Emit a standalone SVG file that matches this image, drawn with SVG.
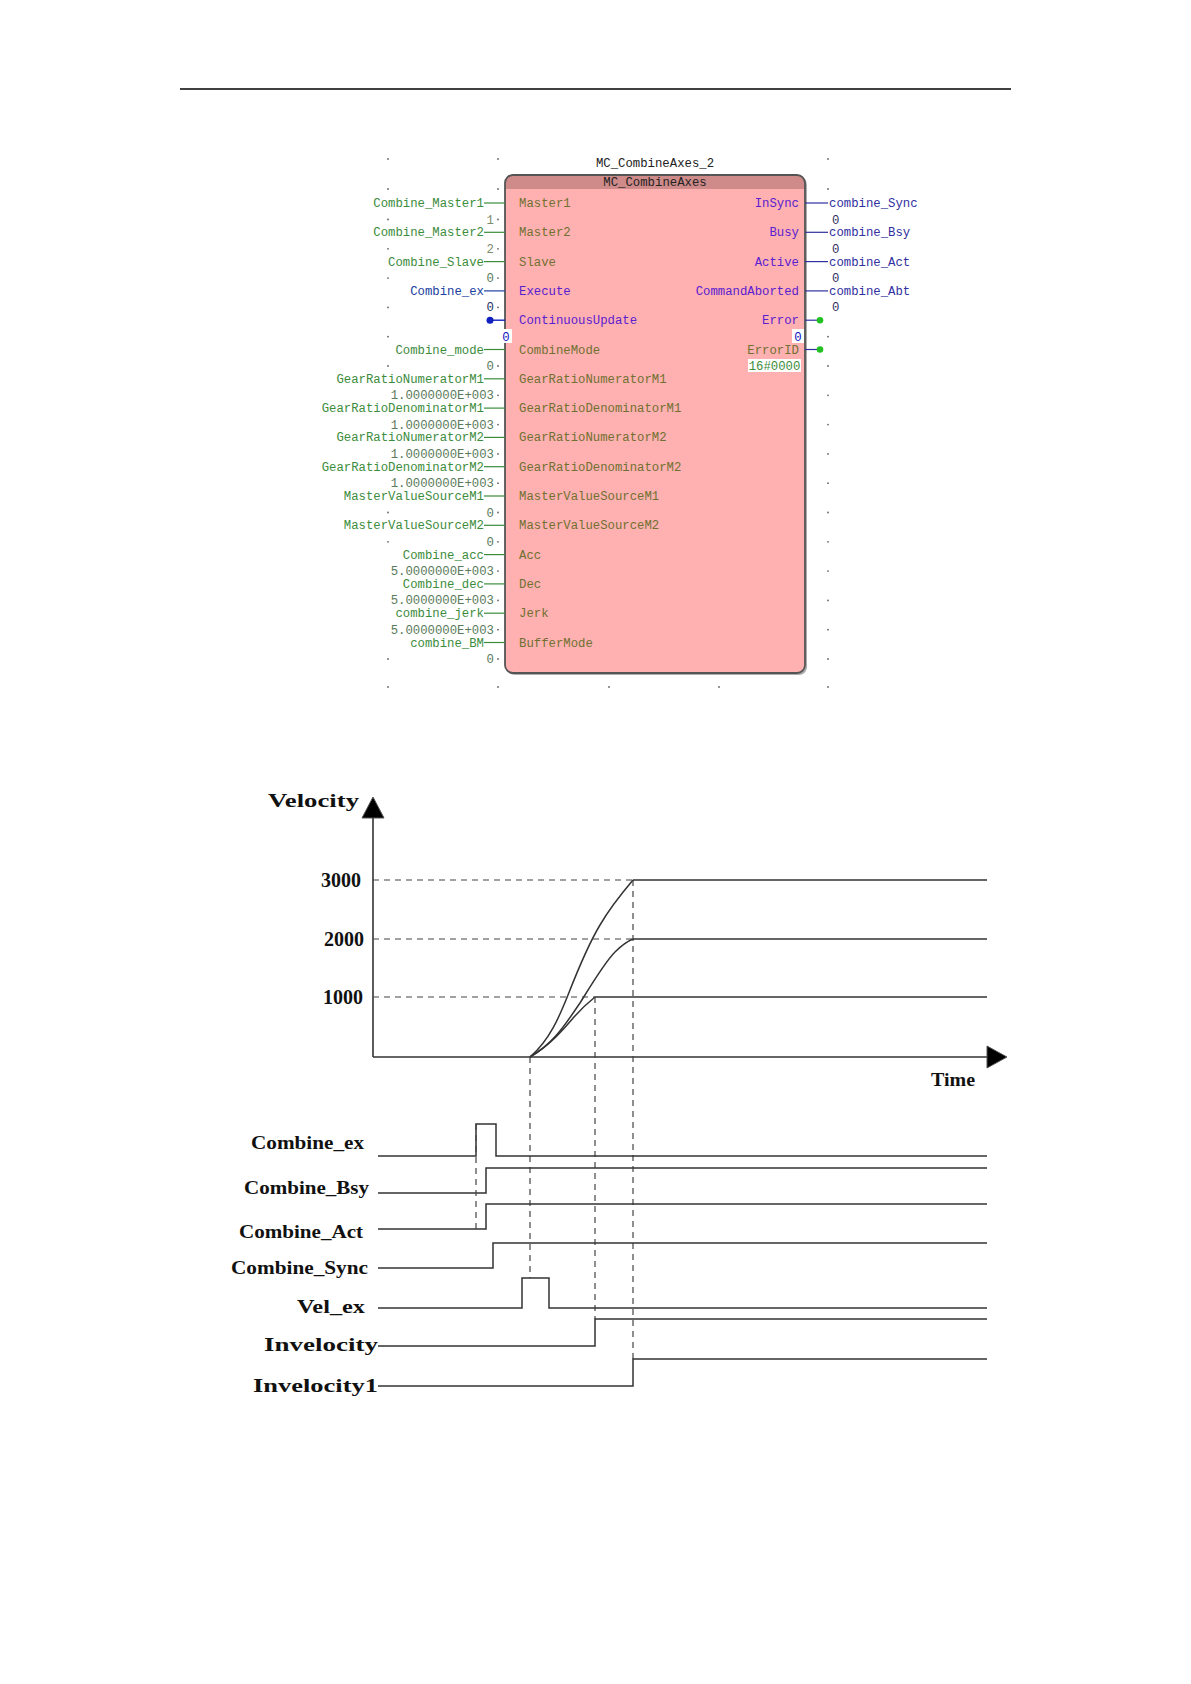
<svg xmlns="http://www.w3.org/2000/svg" width="1191" height="1684" viewBox="0 0 1191 1684">
<style>
.t{font-family:"Liberation Mono",monospace;font-size:12.3px}
.g{fill:#3c8c3c}.ol{fill:#707030}.v{fill:#5a7a5a}.pu{fill:#5a20d0}.bl{fill:#2040a0}.ob{fill:#3030a0}.dk{fill:#303060}
.lb{font-family:"Liberation Serif",serif;font-weight:bold;font-size:19px;fill:#111}
.num{font-family:"Liberation Serif",serif;font-weight:bold;font-size:20px;fill:#111}
.sig{fill:none;stroke:#333;stroke-width:1.5}
.dash{fill:none;stroke:#444;stroke-width:1.2;stroke-dasharray:6,5}
.dot{fill:#666}
</style>
<defs>
<clipPath id="blk"><rect x="505" y="175" width="300" height="498" rx="8"/></clipPath>
</defs>
<line x1="180" y1="89" x2="1011" y2="89" stroke="#000" stroke-width="1.5"/>

<g id="grid-dots">
<g class="dot">
<circle cx="388" cy="159" r="0.9"/><circle cx="498" cy="159" r="0.9"/><circle cx="828" cy="159" r="0.9"/>
<circle cx="388" cy="189" r="0.9"/><circle cx="498" cy="189" r="0.9"/><circle cx="828" cy="189" r="0.9"/>
<circle cx="388" cy="219.5" r="0.9"/><circle cx="388" cy="248.8" r="0.9"/><circle cx="388" cy="278.1" r="0.9"/><circle cx="388" cy="307.4" r="0.9"/><circle cx="388" cy="336.7" r="0.9"/><circle cx="388" cy="366" r="0.9"/><circle cx="388" cy="512.5" r="0.9"/><circle cx="388" cy="541.8" r="0.9"/><circle cx="388" cy="659" r="0.9"/>
<circle cx="498" cy="219.5" r="0.9"/><circle cx="498" cy="248.8" r="0.9"/><circle cx="498" cy="278.1" r="0.9"/><circle cx="498" cy="307.4" r="0.9"/><circle cx="498" cy="366" r="0.9"/><circle cx="498" cy="395.3" r="0.9"/><circle cx="498" cy="424.6" r="0.9"/><circle cx="498" cy="453.9" r="0.9"/><circle cx="498" cy="483.2" r="0.9"/><circle cx="498" cy="512.5" r="0.9"/><circle cx="498" cy="541.8" r="0.9"/><circle cx="498" cy="571.1" r="0.9"/><circle cx="498" cy="600.4" r="0.9"/><circle cx="498" cy="629.7" r="0.9"/><circle cx="498" cy="659" r="0.9"/>
<circle cx="828" cy="336.7" r="0.9"/><circle cx="828" cy="366" r="0.9"/><circle cx="828" cy="395.3" r="0.9"/><circle cx="828" cy="424.6" r="0.9"/><circle cx="828" cy="453.9" r="0.9"/><circle cx="828" cy="483.2" r="0.9"/><circle cx="828" cy="512.5" r="0.9"/><circle cx="828" cy="541.8" r="0.9"/><circle cx="828" cy="571.1" r="0.9"/><circle cx="828" cy="600.4" r="0.9"/><circle cx="828" cy="629.7" r="0.9"/><circle cx="828" cy="659" r="0.9"/>
<circle cx="388" cy="687" r="0.9"/><circle cx="498" cy="687" r="0.9"/><circle cx="609" cy="687" r="0.9"/><circle cx="719" cy="687" r="0.9"/><circle cx="828" cy="687" r="0.9"/>
</g>
</g>

<g id="block">
<rect x="507" y="177" width="300" height="498" rx="8" fill="#8a8a8a" opacity="0.7"/>
<rect x="505" y="175" width="300" height="498" rx="8" fill="#ffb0b0"/>
<rect x="505" y="175" width="300" height="14" fill="#cf8a8a" clip-path="url(#blk)"/>
<rect x="505" y="175" width="300" height="498" rx="8" fill="none" stroke="#555" stroke-width="1.8"/>
<text class="t" x="655" y="167" text-anchor="middle" fill="#222">MC_CombineAxes_2</text>
<text class="t" x="655" y="186" text-anchor="middle" fill="#222">MC_CombineAxes</text>
</g>

<g id="connectors">
<g stroke="#3c8c3c" stroke-width="1.2">
<line x1="484" y1="203" x2="505" y2="203"/><line x1="484" y1="232.3" x2="505" y2="232.3"/><line x1="484" y1="261.6" x2="505" y2="261.6"/>
<line x1="484" y1="349.5" x2="505" y2="349.5"/><line x1="484" y1="378.8" x2="505" y2="378.8"/><line x1="484" y1="408.1" x2="505" y2="408.1"/><line x1="484" y1="437.4" x2="505" y2="437.4"/><line x1="484" y1="466.7" x2="505" y2="466.7"/><line x1="484" y1="496" x2="505" y2="496"/><line x1="484" y1="525.3" x2="505" y2="525.3"/><line x1="484" y1="554.6" x2="505" y2="554.6"/><line x1="484" y1="583.9" x2="505" y2="583.9"/><line x1="484" y1="613.2" x2="505" y2="613.2"/><line x1="484" y1="642.5" x2="505" y2="642.5"/>
</g>
<line x1="484" y1="290.9" x2="505" y2="290.9" stroke="#2040a0" stroke-width="1.2"/>
<line x1="490" y1="320.2" x2="505" y2="320.2" stroke="#1020c0" stroke-width="1.4"/>
<circle cx="490" cy="320.2" r="3.5" fill="#1020c0"/>
<g stroke="#3030a0" stroke-width="1.2">
<line x1="805" y1="203" x2="828" y2="203"/><line x1="805" y1="232.3" x2="828" y2="232.3"/><line x1="805" y1="261.6" x2="828" y2="261.6"/><line x1="805" y1="290.9" x2="828" y2="290.9"/>
<line x1="805" y1="320.2" x2="820" y2="320.2"/><line x1="805" y1="349.5" x2="820" y2="349.5"/>
</g>
<circle cx="820" cy="320.2" r="3.3" fill="#22c022"/>
<circle cx="820" cy="349.5" r="3.3" fill="#22c022"/>
</g>

<g id="inputs" class="t">
<text x="484" y="207" text-anchor="end" class="g">Combine_Master1</text>
<text x="484" y="236.3" text-anchor="end" class="g">Combine_Master2</text>
<text x="484" y="265.6" text-anchor="end" class="g">Combine_Slave</text>
<text x="484" y="294.9" text-anchor="end" class="bl">Combine_ex</text>
<text x="484" y="353.5" text-anchor="end" class="g">Combine_mode</text>
<text x="484" y="382.8" text-anchor="end" class="g">GearRatioNumeratorM1</text>
<text x="484" y="412.1" text-anchor="end" class="g">GearRatioDenominatorM1</text>
<text x="484" y="441.4" text-anchor="end" class="g">GearRatioNumeratorM2</text>
<text x="484" y="470.7" text-anchor="end" class="g">GearRatioDenominatorM2</text>
<text x="484" y="500" text-anchor="end" class="g">MasterValueSourceM1</text>
<text x="484" y="529.3" text-anchor="end" class="g">MasterValueSourceM2</text>
<text x="484" y="558.6" text-anchor="end" class="g">Combine_acc</text>
<text x="484" y="587.9" text-anchor="end" class="g">Combine_dec</text>
<text x="484" y="617.2" text-anchor="end" class="g">combine_jerk</text>
<text x="484" y="646.5" text-anchor="end" class="g">combine_BM</text>

<text x="494" y="223.5" text-anchor="end" fill="#7c8c6c">1</text>
<text x="494" y="252.8" text-anchor="end" fill="#7c8c6c">2</text>
<text x="494" y="282.1" text-anchor="end" class="v">0</text>
<text x="494" y="311.4" text-anchor="end" fill="#203060">0</text>
<rect x="500" y="329" width="12" height="14" fill="#fff"/>
<text x="506" y="340.7" text-anchor="middle" fill="#1010c0">0</text>
<text x="494" y="370" text-anchor="end" class="v">0</text>
<text x="494" y="399.3" text-anchor="end" class="v">1.0000000E+003</text>
<text x="494" y="428.6" text-anchor="end" class="v">1.0000000E+003</text>
<text x="494" y="457.9" text-anchor="end" class="v">1.0000000E+003</text>
<text x="494" y="487.2" text-anchor="end" class="v">1.0000000E+003</text>
<text x="494" y="516.5" text-anchor="end" class="v">0</text>
<text x="494" y="545.8" text-anchor="end" class="v">0</text>
<text x="494" y="575.1" text-anchor="end" class="v">5.0000000E+003</text>
<text x="494" y="604.4" text-anchor="end" class="v">5.0000000E+003</text>
<text x="494" y="633.7" text-anchor="end" class="v">5.0000000E+003</text>
<text x="494" y="663" text-anchor="end" class="v">0</text>
</g>

<g id="pins" class="t">
<text x="519" y="207" class="ol">Master1</text>
<text x="519" y="236.3" class="ol">Master2</text>
<text x="519" y="265.6" class="ol">Slave</text>
<text x="519" y="294.9" class="pu">Execute</text>
<text x="519" y="324.2" class="pu">ContinuousUpdate</text>
<text x="519" y="353.5" class="ol">CombineMode</text>
<text x="519" y="382.8" class="ol">GearRatioNumeratorM1</text>
<text x="519" y="412.1" class="ol">GearRatioDenominatorM1</text>
<text x="519" y="441.4" class="ol">GearRatioNumeratorM2</text>
<text x="519" y="470.7" class="ol">GearRatioDenominatorM2</text>
<text x="519" y="500" class="ol">MasterValueSourceM1</text>
<text x="519" y="529.3" class="ol">MasterValueSourceM2</text>
<text x="519" y="558.6" class="ol">Acc</text>
<text x="519" y="587.9" class="ol">Dec</text>
<text x="519" y="617.2" class="ol">Jerk</text>
<text x="519" y="646.5" class="ol">BufferMode</text>

<text x="799" y="207" text-anchor="end" class="pu">InSync</text>
<text x="799" y="236.3" text-anchor="end" class="pu">Busy</text>
<text x="799" y="265.6" text-anchor="end" class="pu">Active</text>
<text x="799" y="294.9" text-anchor="end" class="pu">CommandAborted</text>
<text x="799" y="324.2" text-anchor="end" class="pu">Error</text>
<rect x="792" y="329" width="12" height="14" fill="#fff"/>
<text x="798" y="340.7" text-anchor="middle" fill="#1010c0">0</text>
<text x="799" y="353.5" text-anchor="end" class="ol">ErrorID</text>
<rect x="748" y="359" width="53" height="13" fill="#fff"/>
<text x="774.5" y="369.5" text-anchor="middle" fill="#3c8c3c">16#0000</text>
</g>

<g id="outputs" class="t">
<text x="829" y="207" class="ob">combine_Sync</text>
<text x="829" y="236.3" class="ob">combine_Bsy</text>
<text x="829" y="265.6" class="ob">combine_Act</text>
<text x="829" y="294.9" class="ob">combine_Abt</text>
<text x="832" y="223.5" class="dk">0</text>
<text x="832" y="252.8" class="dk">0</text>
<text x="832" y="282.1" class="dk">0</text>
<text x="832" y="311.4" class="dk">0</text>
</g>

<g id="velocity-chart">
<line x1="373" y1="815" x2="373" y2="1057" stroke="#333" stroke-width="1.6"/>
<polygon points="373,797 362,818 384,818" fill="#000" stroke="#555" stroke-width="1"/>
<line x1="373" y1="1057" x2="990" y2="1057" stroke="#333" stroke-width="1.6"/>
<polygon points="987,1046 1007,1057 987,1068" fill="#000" stroke="#555" stroke-width="1"/>
<text class="lb" x="268" y="807" textLength="91" lengthAdjust="spacingAndGlyphs">Velocity</text>
<text class="lb" x="931" y="1086" textLength="44" lengthAdjust="spacingAndGlyphs">Time</text>
<text class="num" x="361" y="887" text-anchor="end">3000</text>
<text class="num" x="364" y="946" text-anchor="end">2000</text>
<text class="num" x="363" y="1004" text-anchor="end">1000</text>
<path class="dash" d="M373,880 H633 M373,939 H633 M373,997 H595"/>
<path class="dash" d="M530,1057 V1278 M595,997 V1319 M633,880 V1359"/>
<path class="sig" d="M633,880 H987 M633,939 H987 M595,997 H987"/>
<path class="sig" d="M530,1057 C550,1045 563,1030 574,1017 C583,1007 590,1001 595,997"/>
<path class="sig" d="M530,1057 C555,1043 568,1020 580,1003 C593,982 605,962 615,952 C622,945 628,941 633,939"/>
<path class="sig" d="M530,1057 C550,1040 560,1015 568,995 C577,972 588,945 600,925 C611,906 622,893 633,880"/>
</g>

<g id="timing">
<text class="lb" x="251" y="1149" textLength="113" lengthAdjust="spacingAndGlyphs">Combine_ex</text>
<text class="lb" x="244" y="1194" textLength="125" lengthAdjust="spacingAndGlyphs">Combine_Bsy</text>
<text class="lb" x="239" y="1238" textLength="124" lengthAdjust="spacingAndGlyphs">Combine_Act</text>
<text class="lb" x="231" y="1274" textLength="137" lengthAdjust="spacingAndGlyphs">Combine_Sync</text>
<text class="lb" x="297" y="1313" textLength="68" lengthAdjust="spacingAndGlyphs">Vel_ex</text>
<text class="lb" x="264" y="1351" textLength="114" lengthAdjust="spacingAndGlyphs">Invelocity</text>
<text class="lb" x="253" y="1392" textLength="125" lengthAdjust="spacingAndGlyphs">Invelocity1</text>
<path class="sig" d="M378,1156 H476 V1124 H496 V1156 H987"/>
<path class="sig" d="M378,1193 H486 V1168 H987"/>
<path class="sig" d="M378,1229 H486 V1204 H987"/>
<path class="sig" d="M378,1268 H493 V1243 H987"/>
<path class="sig" d="M378,1308 H522 V1278 H549 V1308 H987"/>
<path class="sig" d="M378,1346 H595 V1319 H987"/>
<path class="sig" d="M378,1386 H633 V1359 H987"/>
<path class="dash" d="M476,1124 V1229"/>
</g>
</svg>
